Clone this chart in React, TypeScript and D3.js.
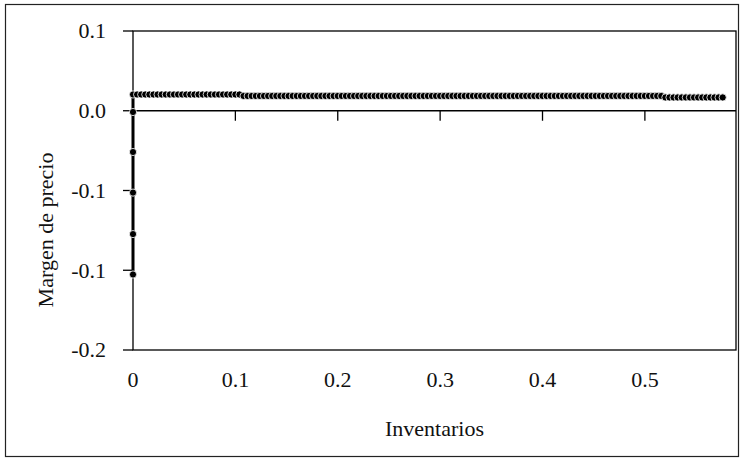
import React, { useEffect, useRef } from "react";
import * as d3 from "d3";

// vertical run at x = 0 (bottom to top)
const riseX = [0, 0, 0, 0, 0];
const riseY = [-0.129, -0.091, -0.052, -0.0138, 0.0238];

// flat run of inventories
const flatX = [
  0, 0.004, 0.008, 0.012, 0.016, 0.02, 0.024, 0.028, 0.032, 0.036, 0.04, 0.044, 0.048, 0.052, 0.056,
  0.06, 0.064, 0.068, 0.072, 0.076, 0.08, 0.084, 0.088, 0.092, 0.096, 0.1, 0.104, 0.108, 0.112, 0.116,
  0.12, 0.124, 0.128, 0.132, 0.136, 0.14, 0.144, 0.148, 0.152, 0.156, 0.16, 0.164, 0.168, 0.172, 0.176,
  0.18, 0.184, 0.188, 0.192, 0.196, 0.2, 0.204, 0.208, 0.212, 0.216, 0.22, 0.224, 0.228, 0.232, 0.236,
  0.24, 0.244, 0.248, 0.252, 0.256, 0.26, 0.264, 0.268, 0.272, 0.276, 0.28, 0.284, 0.288, 0.292, 0.296,
  0.3, 0.304, 0.308, 0.312, 0.316, 0.32, 0.324, 0.328, 0.332, 0.336, 0.34, 0.344, 0.348, 0.352, 0.356,
  0.36, 0.364, 0.368, 0.372, 0.376, 0.38, 0.384, 0.388, 0.392, 0.396, 0.4, 0.404, 0.408, 0.412, 0.416,
  0.42, 0.424, 0.428, 0.432, 0.436, 0.44, 0.444, 0.448, 0.452, 0.456, 0.46, 0.464, 0.468, 0.472, 0.476,
  0.48, 0.484, 0.488, 0.492, 0.496, 0.5, 0.504, 0.508, 0.512, 0.516, 0.52, 0.524, 0.528, 0.532, 0.536,
  0.54, 0.544, 0.548, 0.552, 0.556, 0.56, 0.564, 0.568, 0.572, 0.576,
];
const flatY = [
  0.0403, 0.0403, 0.0403, 0.0403, 0.0403, 0.0403, 0.0403, 0.0403, 0.0403, 0.0403, 0.0403, 0.0403, 0.0403, 0.0403, 0.0403,
  0.0403, 0.0403, 0.0403, 0.0403, 0.0403, 0.0403, 0.0403, 0.0403, 0.0403, 0.0403, 0.0403, 0.0403, 0.0389, 0.0389, 0.0389,
  0.0389, 0.0389, 0.0389, 0.0389, 0.0389, 0.0389, 0.0389, 0.0389, 0.0389, 0.0389, 0.0389, 0.0389, 0.0389, 0.0389, 0.0389,
  0.0389, 0.0389, 0.0389, 0.0389, 0.0389, 0.0389, 0.0389, 0.0389, 0.0389, 0.0389, 0.0389, 0.0389, 0.0389, 0.0389, 0.0389,
  0.0389, 0.0389, 0.0389, 0.0389, 0.0389, 0.0389, 0.0389, 0.0389, 0.0389, 0.0389, 0.0389, 0.0389, 0.0389, 0.0389, 0.0389,
  0.0389, 0.0389, 0.0389, 0.0389, 0.0389, 0.0389, 0.0389, 0.0389, 0.0389, 0.0389, 0.0389, 0.0389, 0.0389, 0.0389, 0.0389,
  0.0389, 0.0389, 0.0389, 0.0389, 0.0389, 0.0389, 0.0389, 0.0389, 0.0389, 0.0389, 0.0389, 0.0389, 0.0389, 0.0389, 0.0389,
  0.0389, 0.0389, 0.0389, 0.0389, 0.0389, 0.0389, 0.0389, 0.0389, 0.0389, 0.0389, 0.0389, 0.0389, 0.0389, 0.0389, 0.0389,
  0.0389, 0.0389, 0.0389, 0.0389, 0.0389, 0.0389, 0.0389, 0.0389, 0.0389, 0.0389, 0.0375, 0.0375, 0.0375, 0.0375, 0.0375,
  0.0375, 0.0375, 0.0375, 0.0375, 0.0375, 0.0375, 0.0375, 0.0375, 0.0375, 0.0375,
];

const yTicks = [0.1, 0.025, -0.05, -0.125, -0.2];
const yTickLabels = ["0.1", "0.0", "-0.1", "-0.1", "-0.2"];
const xTicks = [0, 0.1, 0.2, 0.3, 0.4, 0.5];
const xTickLabels = ["0", "0.1", "0.2", "0.3", "0.4", "0.5"];
const axisCross = 0.025;

const App: React.FC = () => {
  const svgRef: any = useRef();

  useEffect(() => {
    document.body.style.margin = "0";
    const svg = d3.select(svgRef.current);
    svg.selectAll("*").remove();

    const font = "'Liberation Serif', 'Times New Roman', serif";
    const left = 133;
    const right = 736;
    const top = 31;
    const bottom = 350;

    const x = d3.scaleLinear().domain([0, 0.589]).range([left, right]);
    const y = d3.scaleLinear().domain([-0.2, 0.1]).range([bottom, top]);

    // outer frame
    svg
      .append("rect")
      .attr("x", 5.5)
      .attr("y", 4.5)
      .attr("width", 733)
      .attr("height", 452)
      .attr("fill", "#fff")
      .attr("stroke", "#222")
      .attr("stroke-width", 1.2);

    // plot frame
    svg
      .append("rect")
      .attr("x", left)
      .attr("y", top)
      .attr("width", right - left)
      .attr("height", bottom - top)
      .attr("fill", "none")
      .attr("stroke", "#000")
      .attr("stroke-width", 1.3);

    // y ticks + labels
    yTicks.forEach((t, i) => {
      svg
        .append("line")
        .attr("x1", left - 10)
        .attr("x2", left)
        .attr("y1", y(t))
        .attr("y2", y(t))
        .attr("stroke", "#000")
        .attr("stroke-width", 1.3);
      svg
        .append("text")
        .attr("x", 106)
        .attr("y", y(t))
        .attr("dy", "0.34em")
        .attr("text-anchor", "end")
        .attr("font-family", font)
        .attr("font-size", "22px")
        .attr("fill", "#111")
        .text(yTickLabels[i]);
    });

    // horizontal axis line
    svg
      .append("line")
      .attr("x1", left)
      .attr("x2", right)
      .attr("y1", y(axisCross))
      .attr("y2", y(axisCross))
      .attr("stroke", "#000")
      .attr("stroke-width", 1.3);

    xTicks.forEach((t, i) => {
      svg
        .append("line")
        .attr("x1", x(t))
        .attr("x2", x(t))
        .attr("y1", y(axisCross))
        .attr("y2", y(axisCross) + 10)
        .attr("stroke", "#000")
        .attr("stroke-width", 1.3);
      svg
        .append("text")
        .attr("x", x(t))
        .attr("y", 387)
        .attr("text-anchor", "middle")
        .attr("font-family", font)
        .attr("font-size", "22px")
        .attr("fill", "#111")
        .text(xTickLabels[i]);
    });

    // axis titles
    svg
      .append("text")
      .attr("x", (left + right) / 2)
      .attr("y", 436)
      .attr("text-anchor", "middle")
      .attr("font-family", font)
      .attr("font-size", "22px")
      .attr("fill", "#111")
      .text("Inventarios");

    svg
      .append("text")
      .attr("transform", "translate(53,230) rotate(-90)")
      .attr("text-anchor", "middle")
      .attr("font-family", font)
      .attr("font-size", "22px")
      .attr("fill", "#111")
      .text("Margen de precio");

    // series
    const pts = [
      ...riseX.map((d, i) => [d, riseY[i]]),
      ...flatX.map((d, i) => [d, flatY[i]]),
    ];

    const line: any = d3
      .line()
      .x((d: any) => x(d[0]))
      .y((d: any) => y(d[1]));

    svg
      .append("path")
      .datum(pts)
      .attr("fill", "none")
      .attr("stroke", "#000")
      .attr("stroke-width", 3)
      .attr("d", line);

    svg
      .selectAll("circle.pt")
      .data(pts)
      .enter()
      .append("circle")
      .attr("class", "pt")
      .attr("cx", (d) => x(d[0]))
      .attr("cy", (d) => y(d[1]))
      .attr("r", 3.6)
      .attr("fill", "#000")
      .attr("stroke", "#fff")
      .attr("stroke-width", 0.8);
  }, []);

  return <svg ref={svgRef} width={756} height={459} style={{ display: "block" }} />;
};

export default App;
